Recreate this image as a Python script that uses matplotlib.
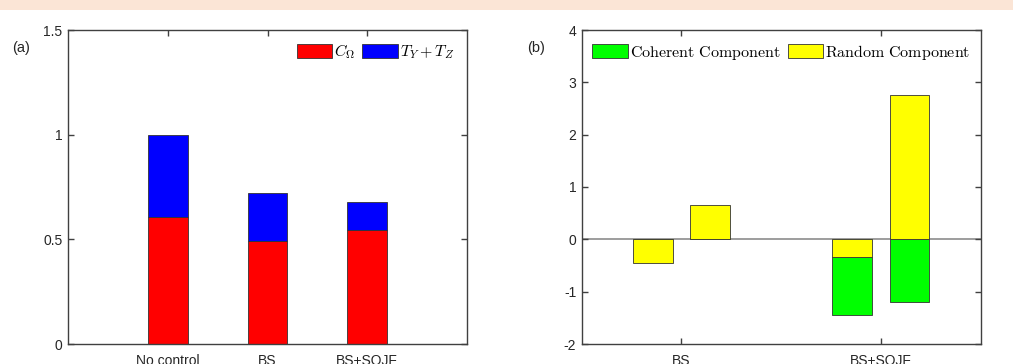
import matplotlib
matplotlib.use("Agg")
import matplotlib.pyplot as plt
from matplotlib.patches import Rectangle
import numpy as np

plt.rcParams['mathtext.fontset'] = 'cm'
plt.rcParams['font.family'] = ['Liberation Sans', 'DejaVu Sans']
plt.rcParams['axes.unicode_minus'] = False

# Panel (a) data
cases_a = ["No control", "BS", "BS+SOJF"]
c_omega = [0.607, 0.49, 0.545]
ty_tz = [0.393, 0.23, 0.132]

# Panel (b) data (two bars per group)
cases_b = ["BS", "BS+SOJF"]
random_comp = [[-0.45, 0.665], [-0.34, 2.765]]
coherent_comp = [[0.0, 0.0], [-1.10, -1.20]]

RED, BLUE, GREEN, YELLOW = "#ff0000", "#0000ff", "#00ff00", "#ffff00"
EDGE = "#333333"
AXC = "#404040"
TXT = "#262626"

W, H = 1013, 364
fig = plt.figure(figsize=(W / 100, H / 100), dpi=100)
fig.patch.set_facecolor("white")
fig.patches.append(Rectangle((0, 1 - 10 / H), 1, 10 / H, transform=fig.transFigure,
                             facecolor="#fbe5d6", edgecolor="none", zorder=0))

bottom = (H - 344) / H
height = (344 - 30) / H
ax1 = fig.add_axes([68 / W, bottom, 399 / W, height])
ax2 = fig.add_axes([581.7 / W, bottom, 399 / W, height])


def style(ax):
    for s in ax.spines.values():
        s.set_color(AXC)
        s.set_linewidth(1.0)
    ax.tick_params(direction="in", length=4, width=1.0, color=AXC, labelcolor=TXT,
                   labelsize=10, top=True, right=True)
    ax.tick_params(axis="y", pad=4)
    ax.tick_params(axis="x", pad=7.5)


# Panel (a)
xa = np.arange(1, len(cases_a) + 1)
ax1.bar(xa, c_omega, width=0.4, color=RED, edgecolor=EDGE, linewidth=0.6,
        label=r"$C_{\Omega}$", zorder=2)
ax1.bar(xa, ty_tz, width=0.4, bottom=c_omega, color=BLUE, edgecolor=EDGE, linewidth=0.6,
        label=r"$T_Y+T_Z$", zorder=2)
ax1.set_xlim(0, 4)
ax1.set_ylim(0, 1.5)
ax1.set_yticks([0, 0.5, 1, 1.5])
ax1.set_yticklabels(["0", "0.5", "1", "1.5"])
ax1.set_xticks(xa)
ax1.set_xticklabels(cases_a)
style(ax1)
ax1.legend(loc="upper right", bbox_to_anchor=(0.968, 0.96), ncol=2, frameon=False,
           fontsize=11.5, handlelength=2.2, handleheight=1.0, handletextpad=0.15,
           columnspacing=0.45, borderaxespad=0, borderpad=0)
fig.text(12 / W, 1 - 48 / H, "(a)", fontsize=10.5, color=TXT, va="center", ha="left")

# Panel (b)
xb = np.arange(1, len(cases_b) + 1)
offsets = [-0.143, 0.143]
ax2.axhline(0, color="#8c8c8c", linewidth=1.2, zorder=1)
for j, off in enumerate(offsets):
    r = [random_comp[i][j] for i in range(len(cases_b))]
    c = [coherent_comp[i][j] for i in range(len(cases_b))]
    cb = [r[i] if (c[i] * r[i] > 0) else 0 for i in range(len(cases_b))]
    ax2.bar(xb + off, c, width=0.2, bottom=cb, color=GREEN, edgecolor=EDGE, linewidth=0.6,
            label="Coherent Component" if j == 0 else None, zorder=2)
    ax2.bar(xb + off, r, width=0.2, color=YELLOW, edgecolor=EDGE, linewidth=0.6,
            label="Random Component" if j == 0 else None, zorder=2)
ax2.set_xlim(0.5, 2.5)
ax2.set_ylim(-2, 4)
ax2.set_yticks(range(-2, 5))
ax2.set_xticks(xb)
ax2.set_xticklabels(cases_b)
style(ax2)
h, l = ax2.get_legend_handles_labels()
ax2.legend(h, [r"$\mathrm{Coherent\ Component}$", r"$\mathrm{Random\ Component}$"],
           loc="upper left", bbox_to_anchor=(0.027, 0.96), ncol=2, frameon=False,
           fontsize=11.5, handlelength=2.2, handleheight=1.0, handletextpad=0.15,
           columnspacing=0.45, borderaxespad=0, borderpad=0)
fig.text(527 / W, 1 - 48 / H, "(b)", fontsize=10.5, color=TXT, va="center", ha="left")

fig.savefig("out.png", dpi=100)
